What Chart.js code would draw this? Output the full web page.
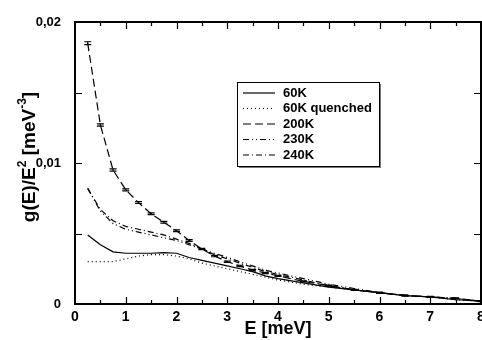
<!DOCTYPE html>
<html>
<head>
<meta charset="utf-8">
<script src="https://cdn.jsdelivr.net/npm/chart.js@4"></script>
<style>
  html, body { margin: 0; padding: 0; background: #fff; }
  #wrap { width: 482px; height: 340px; }
</style>
</head>
<body>
<div id="wrap"><canvas id="myChart"></canvas></div>
<script>
var energy = [0.25, 0.5, 0.75, 1, 1.25, 1.5, 1.75, 2, 2.25, 2.5, 2.75, 3, 3.25, 3.5, 3.75, 4, 4.5, 5, 5.5, 6, 6.5, 7, 7.5, 8];

var values60K = [0.0049, 0.0042, 0.0037, 0.0036, 0.0036, 0.0036, 0.00365, 0.0036, 0.0033, 0.0031, 0.0029, 0.0027, 0.0025, 0.0023, 0.0020, 0.0018, 0.0015, 0.0012, 0.0010, 0.0008, 0.0006, 0.0005, 0.0003, 0.0002];
var values60Kq = [0.0030, 0.0030, 0.0030, 0.0032, 0.0034, 0.0035, 0.0035, 0.0034, 0.0032, 0.0029, 0.0027, 0.0025, 0.0023, 0.0021, 0.0019, 0.0017, 0.0014, 0.0012, 0.0010, 0.0008, 0.0006, 0.0005, 0.0003, 0.0002];
var values200K = [0.0185, 0.0127, 0.0095, 0.0081, 0.0072, 0.0064, 0.0058, 0.0052, 0.0045, 0.0039, 0.0034, 0.0030, 0.0027, 0.0024, 0.0022, 0.0020, 0.0016, 0.0013, 0.0010, 0.0008, 0.0006, 0.0005, 0.0004, 0.0002];
var errors200K = [0.0001, 0.00008, 0.00008, 0.00007, 0.00007, 0.00006, 0.00006, 0.00006, 0.00006, 0.00005, 0.00005, 0.00005, 0.00005, 0.00005, 0.00004, 0.00004, 0.00004, 0.00004, 0.00004, 0.00004, 0.00005, 0.00004, 0.00004, 0.00003];
var values230K = [0.0082, 0.0066, 0.0057, 0.0053, 0.0051, 0.0049, 0.0047, 0.0045, 0.0042, 0.0039, 0.0036, 0.0033, 0.0030, 0.0027, 0.0024, 0.0022, 0.0018, 0.0014, 0.0011, 0.0008, 0.0006, 0.0005, 0.0004, 0.0002];
var values240K = [0.0082, 0.0067, 0.0059, 0.0055, 0.0053, 0.0051, 0.0049, 0.0046, 0.0043, 0.0039, 0.0035, 0.0032, 0.0029, 0.0026, 0.0023, 0.0021, 0.0017, 0.0013, 0.0010, 0.0008, 0.0006, 0.0005, 0.0004, 0.0002];

var seriesLabels = ["60K", "60K quenched", "200K", "230K", "240K"];
var yTickLabels = { "0": "0", "0.01": "0,01", "0.02": "0,02" };

var fontFamily = "'Liberation Sans', Arial, sans-serif";

function points(values) {
  return energy.map(function (e, i) { return { x: e, y: values[i] }; });
}

function makeSet(label, values, dash) {
  return {
    label: label,
    data: points(values),
    borderColor: "#000",
    borderWidth: 1.2,
    borderDash: dash,
    pointRadius: 0,
    tension: 0,
    fill: false
  };
}

// frame, inward ticks and error bars
var framePlugin = {
  id: "frame",
  afterDatasetsDraw: function (chart) {
    var c = chart.ctx, a = chart.chartArea;
    var xs = chart.scales.x, ys = chart.scales.y;
    c.save();
    c.strokeStyle = "#000";
    c.lineWidth = 1.2;
    // error bars on 200K
    values200K.forEach(function (v, i) {
      var px = xs.getPixelForValue(energy[i]);
      var top = ys.getPixelForValue(v + errors200K[i]);
      var bot = ys.getPixelForValue(v - errors200K[i]);
      c.beginPath();
      c.moveTo(px, top); c.lineTo(px, bot);
      c.moveTo(px - 3.5, top); c.lineTo(px + 3.5, top);
      c.moveTo(px - 3.5, bot); c.lineTo(px + 3.5, bot);
      c.stroke();
    });
    // ticks
    for (var t = 0.5; t < 8; t += 0.5) {
      var px = Math.round(xs.getPixelForValue(t)) + 0.5;
      var len = (t % 1 === 0) ? 7 : 4;
      c.beginPath();
      c.moveTo(px, a.bottom); c.lineTo(px, a.bottom - len);
      c.moveTo(px, a.top); c.lineTo(px, a.top + len);
      c.stroke();
    }
    for (var k = 1; k < 4; k++) {
      var py = Math.round(ys.getPixelForValue(k * 0.005)) + 0.5;
      c.beginPath();
      c.moveTo(a.left, py); c.lineTo(a.left + 7, py);
      c.moveTo(a.right, py); c.lineTo(a.right - 7, py);
      c.stroke();
    }
    // frame
    c.lineWidth = 2;
    c.strokeRect(a.left, a.top, a.right - a.left, a.bottom - a.top);
    c.restore();
  }
};

var legendPlugin = {
  id: "boxLegend",
  afterDraw: function (chart) {
    var c = chart.ctx, a = chart.chartArea;
    var left = a.left + 162, top = a.top + 60, w = 142, h = 84;
    c.save();
    c.fillStyle = "#777";
    c.fillRect(left + 2, top + 2, w, h);
    c.fillStyle = "#fff";
    c.fillRect(left, top, w, h);
    c.strokeStyle = "#000";
    c.lineWidth = 1;
    c.strokeRect(left + 0.5, top + 0.5, w, h);
    c.font = "bold 13px " + fontFamily;
    c.textBaseline = "middle";
    c.fillStyle = "#000";
    chart.data.datasets.forEach(function (ds, i) {
      var y = top + 11 + i * 15.5;
      c.setLineDash(ds.borderDash || []);
      c.lineWidth = 1.2;
      c.beginPath();
      c.moveTo(left + 6, y); c.lineTo(left + 38, y);
      c.stroke();
      c.setLineDash([]);
      c.fillText(ds.label, left + 46, y);
    });
    c.restore();
  }
};

// y axis title with real superscripts
var yTitlePlugin = {
  id: "yTitle",
  afterDraw: function (chart) {
    var c = chart.ctx;
    var parts = [["g(E)/E", false], ["2", true], [" [meV", false], ["-3", true], ["]", false]];
    var big = "bold 19px " + fontFamily, small = "bold 12px " + fontFamily;
    c.save();
    var total = 0;
    parts.forEach(function (p) { c.font = p[1] ? small : big; total += c.measureText(p[0]).width; });
    c.translate(35, 157);
    c.rotate(-Math.PI / 2);
    c.fillStyle = "#000";
    c.textBaseline = "alphabetic";
    var x = -total / 2;
    parts.forEach(function (p) {
      c.font = p[1] ? small : big;
      c.fillText(p[0], x, p[1] ? -9 : 0);
      x += c.measureText(p[0]).width;
    });
    c.restore();
  }
};

var ctx = document.getElementById("myChart").getContext("2d");
var chart = new Chart(ctx, {
  type: "line",
  data: {
    datasets: [
      makeSet(seriesLabels[0], values60K, []),
      makeSet(seriesLabels[1], values60Kq, [1, 3]),
      makeSet(seriesLabels[2], values200K, [8, 4]),
      makeSet(seriesLabels[3], values230K, [6, 3, 1, 3, 1, 3]),
      makeSet(seriesLabels[4], values240K, [6, 3, 1, 3])
    ]
  },
  options: {
    responsive: true,
    maintainAspectRatio: false,
    animation: false,
    layout: { padding: { top: 22, right: 1, left: 0, bottom: 0 } },
    plugins: { legend: { display: false }, tooltip: { enabled: false } },
    scales: {
      x: {
        type: "linear",
        min: 0,
        max: 8,
        grid: { display: false },
        border: { display: false },
        ticks: {
          stepSize: 1,
          color: "#000",
          padding: -3,
          font: { family: fontFamily, weight: "bold", size: 14 }
        },
        title: {
          display: true,
          text: "E [meV]",
          color: "#000",
          padding: { top: 0, bottom: 0 },
          font: { family: fontFamily, weight: "bold", size: 18 }
        },
        afterFit: function (scale) { scale.paddingRight = 0; scale.paddingLeft = 0; scale.height = 36; }
      },
      y: {
        min: 0,
        max: 0.02,
        grid: { display: false },
        border: { display: false },
        ticks: {
          stepSize: 0.005,
          color: "#000",
          padding: 6,
          font: { family: fontFamily, weight: "bold", size: 13 },
          callback: function (v) {
            var key = String(Math.round(v * 1000) / 1000);
            return yTickLabels[key] || "";
          }
        },
        afterFit: function (scale) { scale.width = 75; }
      }
    }
  },
  plugins: [framePlugin, legendPlugin, yTitlePlugin]
});
</script>
</body>
</html>
